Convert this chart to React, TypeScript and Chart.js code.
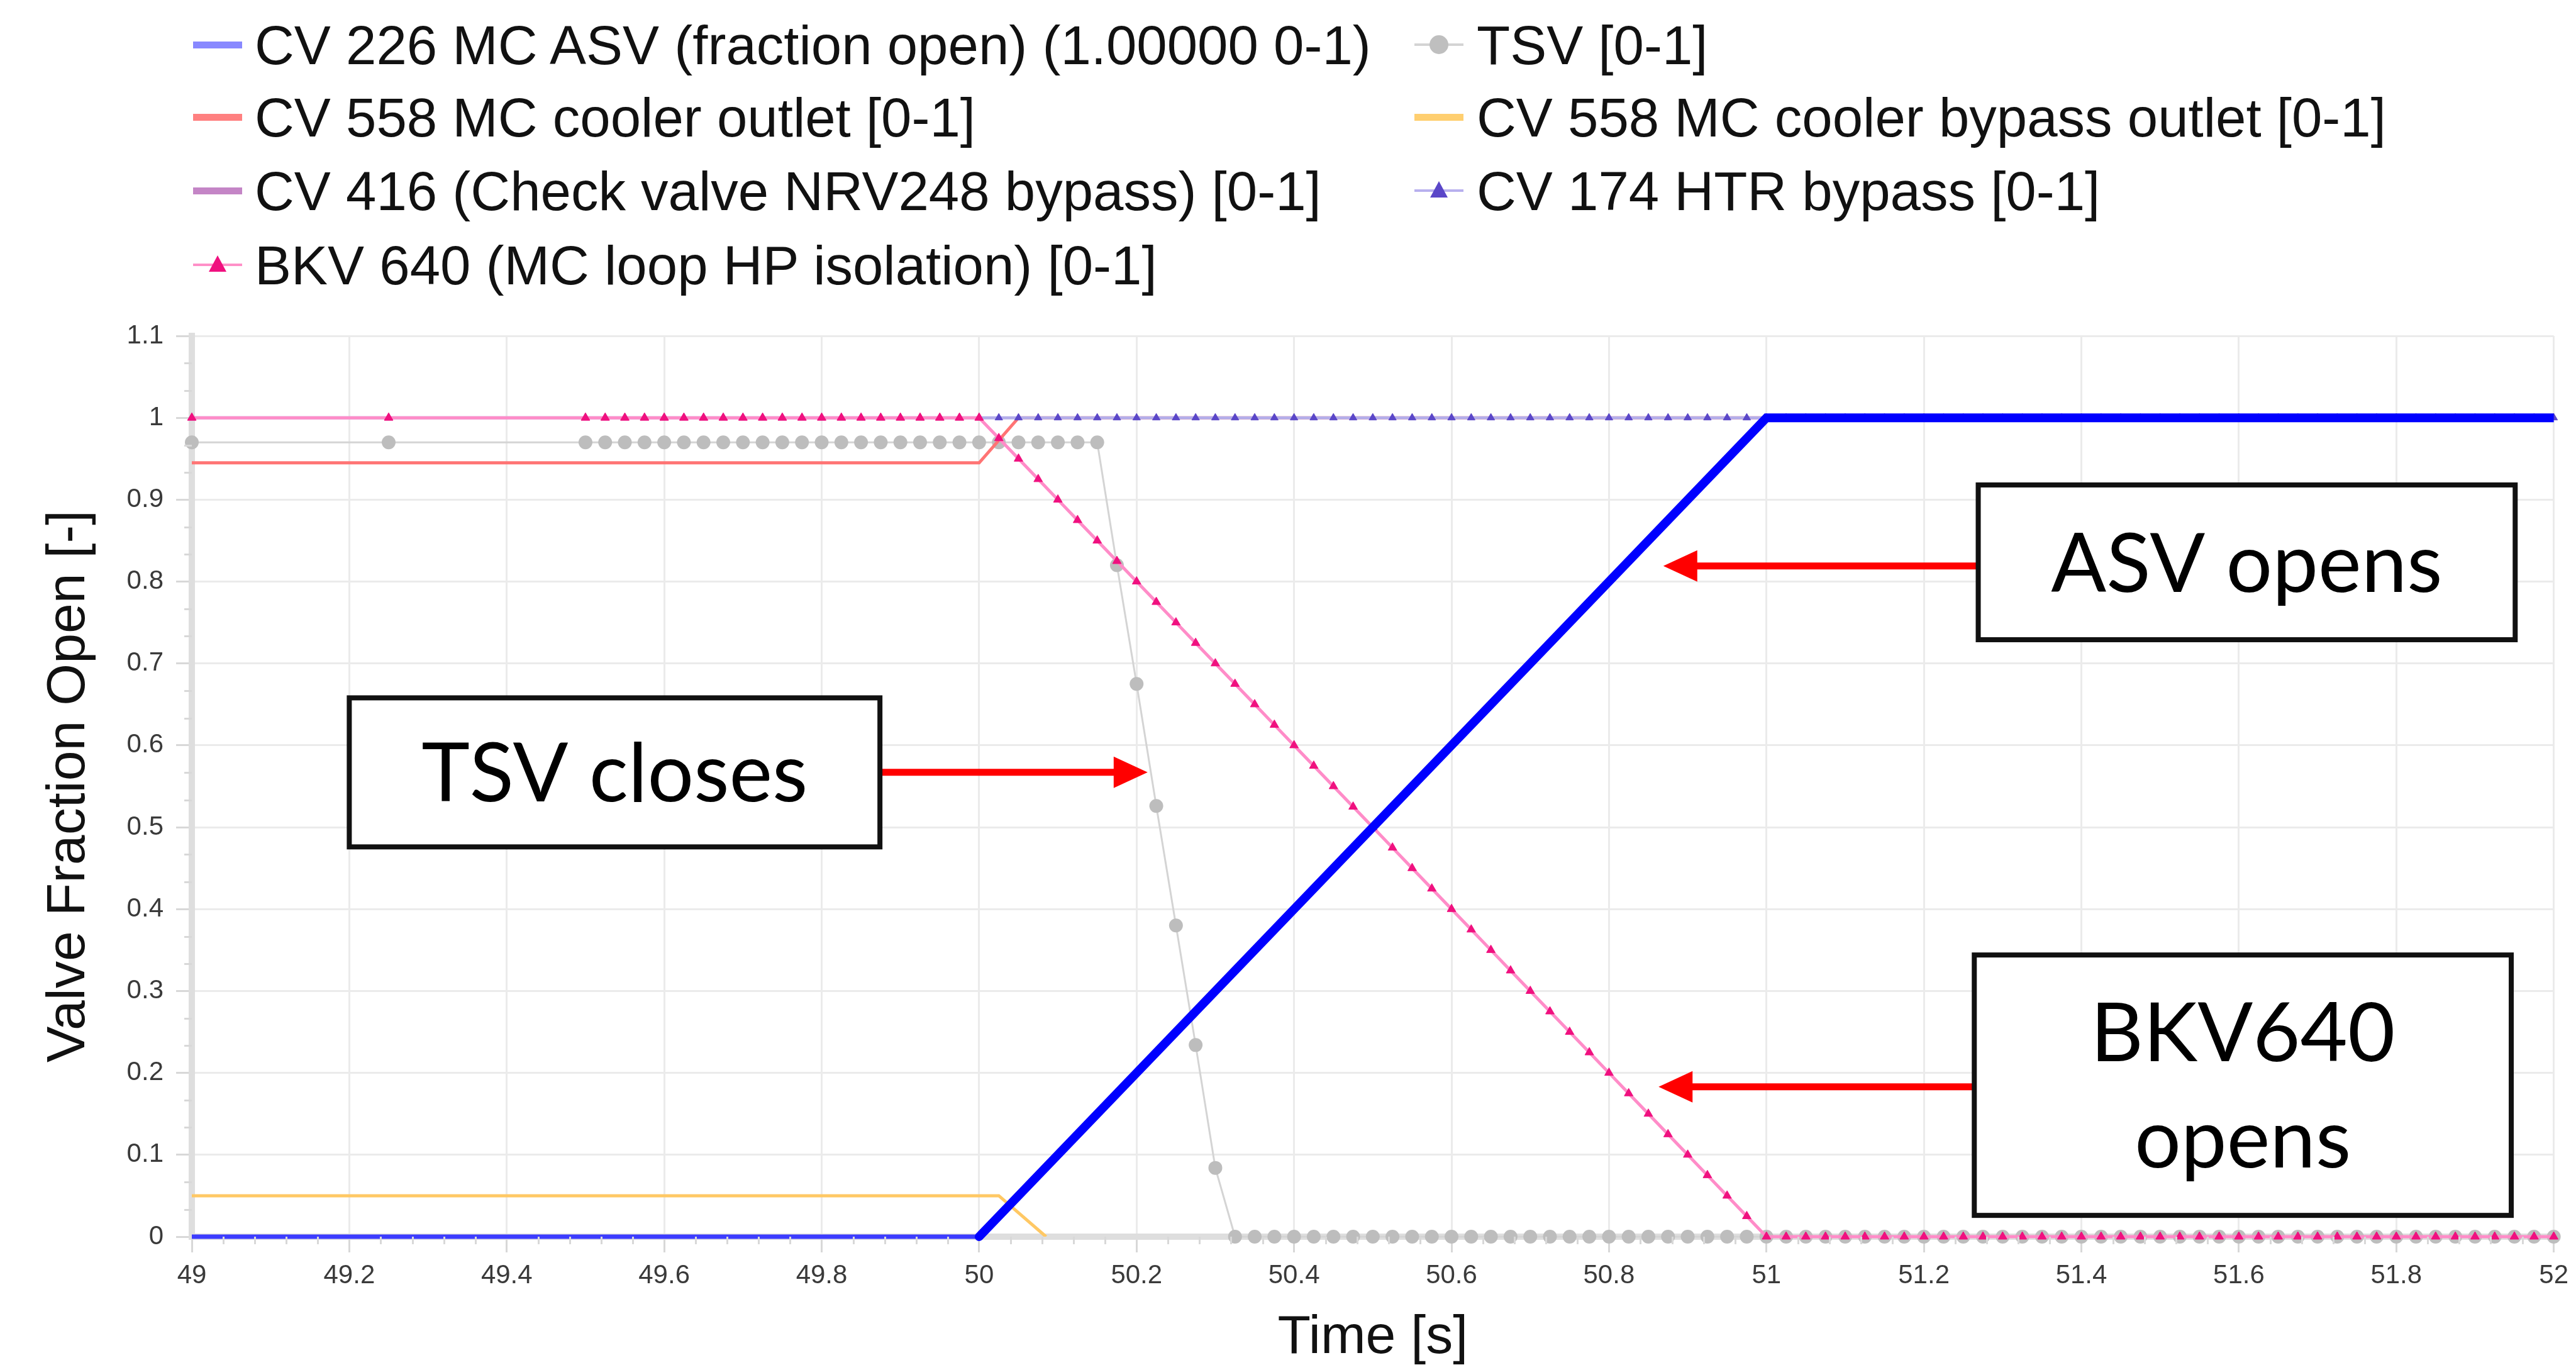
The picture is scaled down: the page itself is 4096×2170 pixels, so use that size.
import React, { useEffect, useRef } from 'react';
import { Chart, registerables } from 'chart.js';

Chart.register(...registerables);

// ---------- data ----------
const T = [
  49, 49.25,
  49.5, 49.525, 49.55, 49.575, 49.6, 49.625, 49.65, 49.675, 49.7, 49.725,
  49.75, 49.775, 49.8, 49.825, 49.85, 49.875, 49.9, 49.925, 49.95, 49.975,
  50, 50.025, 50.05, 50.075, 50.1, 50.125, 50.15, 50.175, 50.2, 50.225,
  50.25, 50.275, 50.3, 50.325, 50.35, 50.375, 50.4, 50.425, 50.45, 50.475,
  50.5, 50.525, 50.55, 50.575, 50.6, 50.625, 50.65, 50.675, 50.7, 50.725,
  50.75, 50.775, 50.8, 50.825, 50.85, 50.875, 50.9, 50.925, 50.95, 50.975,
  51, 51.025, 51.05, 51.075, 51.1, 51.125, 51.15, 51.175, 51.2, 51.225,
  51.25, 51.275, 51.3, 51.325, 51.35, 51.375, 51.4, 51.425, 51.45, 51.475,
  51.5, 51.525, 51.55, 51.575, 51.6, 51.625, 51.65, 51.675, 51.7, 51.725,
  51.75, 51.775, 51.8, 51.825, 51.85, 51.875, 51.9, 51.925, 51.95, 51.975,
  52,
];

const TSV = [
  0.97, 0.97,
  0.97, 0.97, 0.97, 0.97, 0.97, 0.97, 0.97, 0.97, 0.97, 0.97,
  0.97, 0.97, 0.97, 0.97, 0.97, 0.97, 0.97, 0.97, 0.97, 0.97,
  0.97, 0.97, 0.97, 0.97, 0.97, 0.97, 0.97, 0.82, 0.675, 0.526,
  0.38, 0.234, 0.084, 0, 0, 0, 0, 0, 0, 0,
  0, 0, 0, 0, 0, 0, 0, 0, 0, 0,
  0, 0, 0, 0, 0, 0, 0, 0, 0, 0,
  0, 0, 0, 0, 0, 0, 0, 0, 0, 0,
  0, 0, 0, 0, 0, 0, 0, 0, 0, 0,
  0, 0, 0, 0, 0, 0, 0, 0, 0, 0,
  0, 0, 0, 0, 0, 0, 0, 0, 0, 0,
  0,
];

const BKV640 = [
  1, 1,
  1, 1, 1, 1, 1, 1, 1, 1, 1, 1,
  1, 1, 1, 1, 1, 1, 1, 1, 1, 1,
  1, 0.975, 0.95, 0.925, 0.9, 0.875, 0.85, 0.825, 0.8, 0.775,
  0.75, 0.725, 0.7, 0.675, 0.65, 0.625, 0.6, 0.575, 0.55, 0.525,
  0.5, 0.475, 0.45, 0.425, 0.4, 0.375, 0.35, 0.325, 0.3, 0.275,
  0.25, 0.225, 0.2, 0.175, 0.15, 0.125, 0.1, 0.075, 0.05, 0.025,
  0, 0, 0, 0, 0, 0, 0, 0, 0, 0,
  0, 0, 0, 0, 0, 0, 0, 0, 0, 0,
  0, 0, 0, 0, 0, 0, 0, 0, 0, 0,
  0, 0, 0, 0, 0, 0, 0, 0, 0, 0,
  0,
];

const CV174 = [
  1, 1,
  1, 1, 1, 1, 1, 1, 1, 1, 1, 1,
  1, 1, 1, 1, 1, 1, 1, 1, 1, 1,
  1, 1, 1, 1, 1, 1, 1, 1, 1, 1,
  1, 1, 1, 1, 1, 1, 1, 1, 1, 1,
  1, 1, 1, 1, 1, 1, 1, 1, 1, 1,
  1, 1, 1, 1, 1, 1, 1, 1, 1, 1,
  1, 1, 1, 1, 1, 1, 1, 1, 1, 1,
  1, 1, 1, 1, 1, 1, 1, 1, 1, 1,
  1, 1, 1, 1, 1, 1, 1, 1, 1, 1,
  1, 1, 1, 1, 1, 1, 1, 1, 1, 1,
  1,
];

const ASV_T = [49, 50, 51, 52];
const ASV = [0, 0, 1, 1];

const CV558_T = [49, 50, 50.05, 52];
const CV558 = [0.945, 0.945, 1, 1];

const CV558B_T = [49, 50.025, 50.085];
const CV558B = [0.05, 0.05, 0];

const CV416_T = [49, 52];
const CV416 = [1, 1];

const X_TICKS = [49, 49.2, 49.4, 49.6, 49.8, 50, 50.2, 50.4, 50.6, 50.8, 51, 51.2, 51.4, 51.6, 51.8, 52];
const X_LABELS = ['49', '49.2', '49.4', '49.6', '49.8', '50', '50.2', '50.4', '50.6', '50.8', '51', '51.2', '51.4', '51.6', '51.8', '52'];
const Y_TICKS = [0, 0.1, 0.2, 0.3, 0.4, 0.5, 0.6, 0.7, 0.8, 0.9, 1, 1.1];
const Y_LABELS = ['0', '0.1', '0.2', '0.3', '0.4', '0.5', '0.6', '0.7', '0.8', '0.9', '1', '1.1'];

const SERIES_NAMES = [
  'CV 226 MC ASV (fraction open) (1.00000 0-1)',
  'TSV [0-1]',
  'CV 558 MC cooler outlet [0-1]',
  'CV 558 MC cooler bypass outlet [0-1]',
  'CV 416 (Check valve NRV248 bypass) [0-1]',
  'CV 174 HTR bypass [0-1]',
  'BKV 640 (MC loop HP isolation) [0-1]',
];

// annotation callouts (data coordinates)
const BOX_LINES = [['ASV opens'], ['TSV closes'], ['BKV640', 'opens']];
const BOX_X0 = [51.269, 49.2, 51.264];
const BOX_X1 = [51.951, 49.874, 51.946];
const BOX_Y0 = [0.729, 0.476, 0.026];
const BOX_Y1 = [0.918, 0.658, 0.344];
const ARROW_FROM = [51.269, 49.874, 51.264];
const ARROW_TO = [50.869, 50.214, 50.863];
const ARROW_Y = [0.819, 0.567, 0.183];

// ---------- styles ----------
const W = 4096;
const H = 2170;
const FONT = "'Liberation Sans', Arial, sans-serif";
const GRID = '#ebebeb';
const AXIS = '#dedede';

const pts = (xs: number[], ys: number[]) => xs.map((x, i) => ({ x, y: ys[i] }));

const minorTicks = {
  id: 'minorTicks',
  afterDraw(chart: any) {
    const { ctx } = chart;
    const x = chart.scales.x;
    const y = chart.scales.y;
    ctx.save();
    ctx.strokeStyle = '#d8d8d8';
    ctx.lineWidth = 3;
    ctx.beginPath();
    for (let i = 0; i < X_TICKS.length - 1; i++) {
      for (let k = 1; k < 5; k++) {
        const v = X_TICKS[i] + ((X_TICKS[i + 1] - X_TICKS[i]) * k) / 5;
        const px = Math.round(x.getPixelForValue(v)) + 0.5;
        ctx.moveTo(px, y.bottom);
        ctx.lineTo(px, y.bottom + 12);
      }
    }
    for (let i = 0; i < Y_TICKS.length - 1; i++) {
      for (let k = 1; k < 3; k++) {
        const v = Y_TICKS[i] + ((Y_TICKS[i + 1] - Y_TICKS[i]) * k) / 3;
        const py = Math.round(y.getPixelForValue(v)) + 0.5;
        ctx.moveTo(x.left, py);
        ctx.lineTo(x.left - 12, py);
      }
    }
    ctx.stroke();
    ctx.restore();
  },
};

const callouts = {
  id: 'callouts',
  afterDatasetsDraw(chart: any) {
    const { ctx } = chart;
    const x = chart.scales.x;
    const y = chart.scales.y;
    ctx.save();
    const HEAD_LEN = 54;
    const HEAD_HALF = 25;
    for (let i = 0; i < ARROW_FROM.length; i++) {
      const x0 = x.getPixelForValue(ARROW_FROM[i]);
      const x1 = x.getPixelForValue(ARROW_TO[i]);
      const py = y.getPixelForValue(ARROW_Y[i]);
      const dir = Math.sign(x1 - x0);
      ctx.strokeStyle = '#ff0000';
      ctx.lineWidth = 11;
      ctx.beginPath();
      ctx.moveTo(x0, py);
      ctx.lineTo(x1 - dir * (HEAD_LEN - 4), py);
      ctx.stroke();
      ctx.fillStyle = '#ff0000';
      ctx.beginPath();
      ctx.moveTo(x1, py);
      ctx.lineTo(x1 - dir * HEAD_LEN, py - HEAD_HALF);
      ctx.lineTo(x1 - dir * HEAD_LEN, py + HEAD_HALF);
      ctx.closePath();
      ctx.fill();
    }
    const fs = 130;
    const capH = fs * 0.7165;
    const gap = 169;
    for (let i = 0; i < BOX_LINES.length; i++) {
      const l = x.getPixelForValue(BOX_X0[i]);
      const r = x.getPixelForValue(BOX_X1[i]);
      const t = y.getPixelForValue(BOX_Y1[i]);
      const b = y.getPixelForValue(BOX_Y0[i]);
      ctx.fillStyle = '#ffffff';
      ctx.fillRect(l, t, r - l, b - t);
      ctx.strokeStyle = '#111111';
      ctx.lineWidth = 8;
      ctx.strokeRect(l, t, r - l, b - t);
      ctx.fillStyle = '#000000';
      ctx.font = `${fs}px Lato, 'Open Sans', sans-serif`;
      ctx.textAlign = 'center';
      ctx.textBaseline = 'alphabetic';
      const cx = (l + r) / 2;
      const cy = (t + b) / 2;
      const lines = BOX_LINES[i];
      const n = lines.length;
      lines.forEach((s, j) => {
        ctx.fillText(s, cx, cy + capH / 2 + (j - (n - 1) / 2) * gap);
      });
    }
    ctx.restore();
  },
};

// ---------- legend ----------
type LegendItem = {
  name: string;
  col: number;
  row: number;
  line: string;
  thick: number;
  marker?: 'circle' | 'triangle';
  markerColor?: string;
};

const LEGEND: LegendItem[] = [
  { name: SERIES_NAMES[0], col: 0, row: 0, line: '#8888ff', thick: 11 },
  { name: SERIES_NAMES[1], col: 1, row: 0, line: '#d4d4d4', thick: 4, marker: 'circle', markerColor: '#bfbfbf' },
  { name: SERIES_NAMES[2], col: 0, row: 1, line: '#ff8080', thick: 11 },
  { name: SERIES_NAMES[3], col: 1, row: 1, line: '#ffcf70', thick: 11 },
  { name: SERIES_NAMES[4], col: 0, row: 2, line: '#c485c6', thick: 11 },
  { name: SERIES_NAMES[5], col: 1, row: 2, line: '#b8b0ee', thick: 4, marker: 'triangle', markerColor: '#5a46c8' },
  { name: SERIES_NAMES[6], col: 0, row: 3, line: '#ff90c8', thick: 4, marker: 'triangle', markerColor: '#f0107f' },
];

const COL_SWATCH_X = [307, 2249];
const COL_TEXT_X = [405, 2348];
const ROW_BASELINE = [102, 217, 334, 452];
const LEGEND_FS = 87;

function Legend() {
  return (
    <>
      {LEGEND.map((it, i) => {
        const base = ROW_BASELINE[it.row];
        const cy = base - 31;
        const sx = COL_SWATCH_X[it.col];
        const sw = 78;
        return (
          <React.Fragment key={i}>
            <div
              style={{
                position: 'absolute',
                left: sx,
                top: cy - it.thick / 2,
                width: sw,
                height: it.thick,
                background: it.line,
              }}
            />
            {it.marker === 'circle' && (
              <div
                style={{
                  position: 'absolute',
                  left: sx + sw / 2 - 15,
                  top: cy - 15,
                  width: 30,
                  height: 30,
                  borderRadius: '50%',
                  background: it.markerColor,
                }}
              />
            )}
            {it.marker === 'triangle' && (
              <div
                style={{
                  position: 'absolute',
                  left: sx + sw / 2 - 14,
                  top: cy - 15,
                  width: 28,
                  height: 26,
                  background: it.markerColor,
                  clipPath: 'polygon(50% 0, 100% 100%, 0 100%)',
                }}
              />
            )}
            <div
              style={{
                position: 'absolute',
                left: COL_TEXT_X[it.col],
                top: base - LEGEND_FS * 0.8465,
                fontFamily: FONT,
                fontSize: LEGEND_FS,
                lineHeight: `${LEGEND_FS}px`,
                whiteSpace: 'nowrap',
                color: '#111',
              }}
            >
              {it.name}
            </div>
          </React.Fragment>
        );
      })}
    </>
  );
}

export default function App() {
  const ref = useRef<HTMLCanvasElement | null>(null);

  useEffect(() => {
    document.body.style.margin = '0';
    const canvas = ref.current;
    if (!canvas) return;
    const tickFont = { family: FONT, size: 42 };
    const chart = new Chart(canvas, {
      type: 'line',
      data: {
        datasets: [
          {
            label: SERIES_NAMES[0],
            data: pts(ASV_T, ASV),
            order: 0,
            borderColor: '#0000ff',
            borderWidth: 14,
            borderCapStyle: 'round',
            pointRadius: 0,
            clip: { left: 0, right: 0, top: 12, bottom: 12 } as any,
            segment: {
              borderWidth: (c: any) => (c.p0DataIndex === 0 ? 7 : 14),
              borderColor: (c: any) => (c.p0DataIndex === 0 ? '#3c3cff' : '#0000ff'),
            },
          },
          {
            label: SERIES_NAMES[6],
            data: pts(T, BKV640),
            order: 1,
            borderColor: '#ff8cc8',
            borderWidth: 5,
            pointStyle: 'triangle',
            pointRadius: 8,
            pointBackgroundColor: '#f0107f',
            pointBorderColor: '#f0107f',
            pointBorderWidth: 1,
            clip: false as any,
          },
          {
            label: SERIES_NAMES[5],
            data: pts(T, CV174),
            order: 2,
            borderColor: '#b4aeea',
            borderWidth: 5,
            pointStyle: 'triangle',
            pointRadius: 7,
            pointBackgroundColor: '#5a46c8',
            pointBorderColor: '#5a46c8',
            pointBorderWidth: 1,
            clip: false as any,
          },
          {
            label: SERIES_NAMES[4],
            data: pts(CV416_T, CV416),
            order: 3,
            borderColor: '#c080c8',
            borderWidth: 3,
            pointRadius: 0,
          },
          {
            label: SERIES_NAMES[2],
            data: pts(CV558_T, CV558),
            order: 4,
            borderColor: '#ff7474',
            borderWidth: 5,
            pointRadius: 0,
          },
          {
            label: SERIES_NAMES[3],
            data: pts(CV558B_T, CV558B),
            order: 5,
            borderColor: '#ffc864',
            borderWidth: 5,
            pointRadius: 0,
          },
          {
            label: SERIES_NAMES[1],
            data: pts(T, TSV),
            order: 6,
            borderColor: '#d4d4d4',
            borderWidth: 3,
            pointStyle: 'circle',
            pointRadius: 11,
            pointBackgroundColor: '#bdbdbd',
            pointBorderColor: '#bdbdbd',
            pointBorderWidth: 0,
            clip: false as any,
          },
        ],
      },
      options: {
        responsive: false,
        animation: false,
        devicePixelRatio: 1,
        layout: { padding: { top: 534, right: 31, bottom: 0, left: 0 } },
        plugins: {
          legend: { display: false },
          tooltip: { enabled: false },
        },
        scales: {
          x: {
            type: 'linear',
            min: 49,
            max: 52,
            afterBuildTicks: (s: any) => {
              s.ticks = X_TICKS.map((v) => ({ value: v }));
            },
            afterFit: (s: any) => {
              s.height = H - 1966;
            },
            ticks: {
              autoSkip: false,
              maxRotation: 0,
              minRotation: 0,
              padding: 12,
              color: '#3a3a3a',
              font: tickFont,
              callback: (_v: any, i: number) => X_LABELS[i],
            },
            grid: {
              color: GRID,
              lineWidth: 3,
              tickLength: 25,
              tickColor: '#d8d8d8',
              tickWidth: 3,
            },
            border: { display: true, color: AXIS, width: 10 },
            title: {
              display: true,
              text: 'Time [s]',
              color: '#111',
              font: { family: FONT, size: 86, lineHeight: 1 },
              padding: { top: 0, bottom: 0 },
            },
          },
          y: {
            type: 'linear',
            min: 0,
            max: 1.1,
            afterBuildTicks: (s: any) => {
              s.ticks = Y_TICKS.map((v) => ({ value: v }));
            },
            afterFit: (s: any) => {
              s.width = 305;
            },
            ticks: {
              autoSkip: false,
              padding: 20,
              color: '#3a3a3a',
              font: tickFont,
              callback: (_v: any, i: number) => Y_LABELS[i],
            },
            grid: {
              color: GRID,
              lineWidth: 3,
              tickLength: 25,
              tickColor: '#d8d8d8',
              tickWidth: 3,
            },
            border: { display: true, color: AXIS, width: 10 },
            title: {
              display: true,
              text: 'Valve Fraction Open [-]',
              color: '#111',
              font: { family: FONT, size: 86, lineHeight: 1 },
              padding: { top: 67, bottom: 0 },
            },
          },
        },
      },
      plugins: [minorTicks, callouts],
    } as any);
    if ((document as any).fonts && (document as any).fonts.load) {
      (document as any).fonts.load("130px Lato").then(() => chart.draw()).catch(() => {});
    }
    return () => chart.destroy();
  }, []);

  return (
    <div style={{ position: 'relative', width: W, height: H, background: '#ffffff', overflow: 'hidden' }}>
      <canvas ref={ref} width={W} height={H} style={{ position: 'absolute', left: 0, top: 0, width: W, height: H }} />
      <Legend />
    </div>
  );
}
